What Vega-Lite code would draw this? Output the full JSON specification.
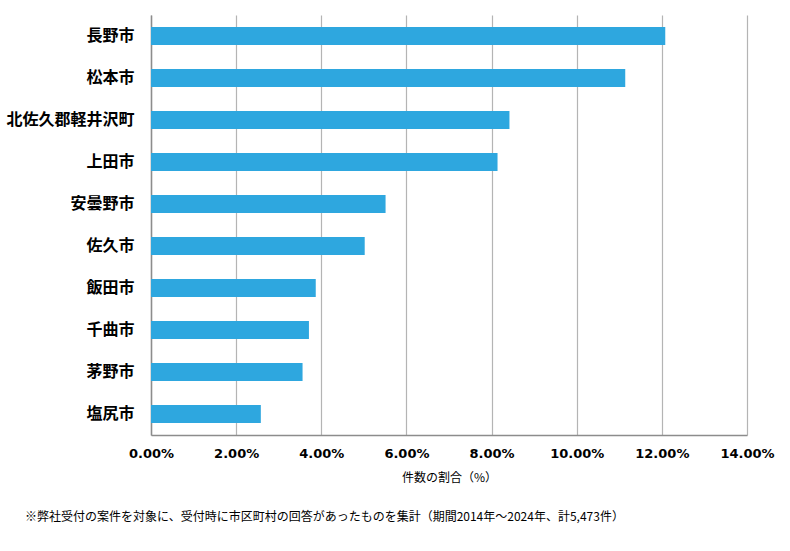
{
  "$schema": "https://vega.github.io/schema/vega-lite/v6.json",
  "width": 596,
  "height": 420,
  "autosize": "none",
  "padding": {"left": 151, "top": 15, "right": 43, "bottom": 116},
  "background": "#ffffff",
  "data": {"values": [
    {"city": "長野市", "share": 0.1208},
    {"city": "松本市", "share": 0.1114},
    {"city": "北佐久郡軽井沢町", "share": 0.0842},
    {"city": "上田市", "share": 0.0814},
    {"city": "安曇野市", "share": 0.0551},
    {"city": "佐久市", "share": 0.0502},
    {"city": "飯田市", "share": 0.0387},
    {"city": "千曲市", "share": 0.0371},
    {"city": "茅野市", "share": 0.0356},
    {"city": "塩尻市", "share": 0.0258}
  ]},
  "title": {
    "text": "※弊社受付の案件を対象に、受付時に市区町村の回答があったものを集計（期間2014年～2024年、計5,473件）",
    "orient": "bottom",
    "anchor": "start",
    "frame": "group",
    "dx": -126,
    "offset": 29,
    "font": "Noto Sans CJK JP",
    "fontSize": 12,
    "fontWeight": "normal",
    "color": "#000000"
  },
  "mark": {"type": "bar", "color": "#2EA7DF"},
  "encoding": {
    "y": {
      "field": "city",
      "type": "nominal",
      "sort": null,
      "scale": {"paddingInner": 0.571, "paddingOuter": 0.286},
      "axis": {
        "title": null,
        "ticks": false,
        "labelPadding": 17,
        "labelFont": "Noto Sans CJK JP",
        "labelFontSize": 16,
        "labelFontWeight": "bold",
        "labelColor": "#000000",
        "domainColor": "#8c8c8c",
        "domainWidth": 1.5,
        "grid": false
      }
    },
    "x": {
      "field": "share",
      "type": "quantitative",
      "scale": {"domain": [0, 0.14], "nice": false},
      "axis": {
        "values": [0, 0.02, 0.04, 0.06, 0.08, 0.10, 0.12, 0.14],
        "format": ".2%",
        "title": "件数の割合（%）",
        "titleFont": "Noto Sans CJK JP",
        "titleFontSize": 12,
        "titleFontWeight": "normal",
        "titleColor": "#000000",
        "titlePadding": 12,
        "ticks": false,
        "labelPadding": 12,
        "labelFont": "DejaVu Sans",
        "labelFontSize": 13,
        "labelFontWeight": "bold",
        "labelColor": "#000000",
        "labelFlush": false,
        "domainColor": "#8c8c8c",
        "domainWidth": 1.5,
        "grid": true,
        "gridColor": "#b4b4b4",
        "gridWidth": 1.2
      }
    }
  },
  "config": {"view": {"stroke": null}}
}
